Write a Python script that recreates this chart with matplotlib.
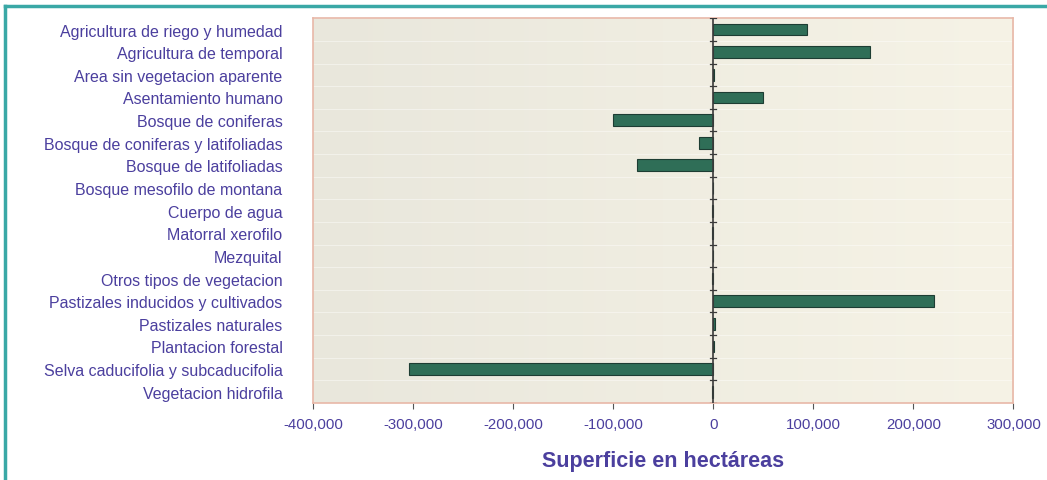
import numpy as np
import matplotlib.pyplot as plt
from matplotlib.lines import Line2D
from matplotlib.colors import LinearSegmentedColormap

categories = [
    'Agricultura de riego y humedad',
    'Agricultura de temporal',
    'Area sin vegetacion aparente',
    'Asentamiento humano',
    'Bosque de coniferas',
    'Bosque de coniferas y latifoliadas',
    'Bosque de latifoliadas',
    'Bosque mesofilo de montana',
    'Cuerpo de agua',
    'Matorral xerofilo',
    'Mezquital',
    'Otros tipos de vegetacion',
    'Pastizales inducidos y cultivados',
    'Pastizales naturales',
    'Plantacion forestal',
    'Selva caducifolia y subcaducifolia',
    'Vegetacion hidrofila',
]
# change in area (hectares)
values = [94000, 157000, 300, 50000, -100000, -14000, -76000, -300,
          -1500, -1000, -200, -1200, 221000, 1500, 400, -304000, -1500]
xticks = [-400000, -300000, -200000, -100000, 0, 100000, 200000, 300000]

label_col = '#4b3f9e'
bar_col = '#2f6e57'

fig = plt.figure(figsize=(10.47, 4.81), dpi=100)
fig.patch.set_facecolor('white')

ax = fig.add_axes([0.299, 0.16, 0.669, 0.80])
# beige gradient background
grad = np.linspace(0, 1, 256).reshape(1, -1)
bg = LinearSegmentedColormap.from_list('bg', ['#e9e7dc', '#f6f3e6'])
ax.imshow(grad, extent=[-400000, 300000, -0.5, len(categories) - 0.5], aspect='auto',
          cmap=bg, zorder=0)

y = np.arange(len(categories))
ax.barh(y, values, height=0.52, color=bar_col, edgecolor='#1d3d33', linewidth=0.8, zorder=3)

ax.set_xlim(-400000, 300000)
ax.set_ylim(len(categories) - 0.5, -0.5)

# faint horizontal grid
for yy in np.arange(len(categories) + 1) - 0.5:
    ax.axhline(yy, color='white', lw=0.6, alpha=0.5, zorder=1)

# category axis at zero
ax.axvline(0, color='#3a3a3a', lw=1.2, zorder=4)
for yy in np.arange(len(categories) + 1) - 0.5:
    ax.add_line(Line2D([-3000, 3000], [yy, yy], color='#3a3a3a', lw=0.9, zorder=4))

ax.set_yticks(y)
ax.set_yticklabels(categories, fontsize=11.5, color=label_col, family='Liberation Sans')
ax.tick_params(axis='y', length=0, pad=22)

ax.set_xticks(xticks)
ax.set_xticklabels(['{:,}'.format(v) for v in xticks], fontsize=10.8, color=label_col,
                   family='Liberation Sans')
ax.tick_params(axis='x', length=4, color='#555555', pad=6)

for s in ax.spines.values():
    s.set_color('#e8b8a8')
    s.set_linewidth(1.2)

ax.set_xlabel('Superficie en hectáreas', fontsize=15.5, fontweight='bold', color=label_col,
              family='Liberation Sans', labelpad=14)

# teal frame lines (left and top)
fig.add_artist(Line2D([0.005, 0.005], [0, 0.986], transform=fig.transFigure, color='#3aa8a6', lw=2.5))
fig.add_artist(Line2D([0.005, 1.0], [0.986, 0.986], transform=fig.transFigure, color='#3aa8a6', lw=2.5))

fig.savefig('out.png', dpi=100)
